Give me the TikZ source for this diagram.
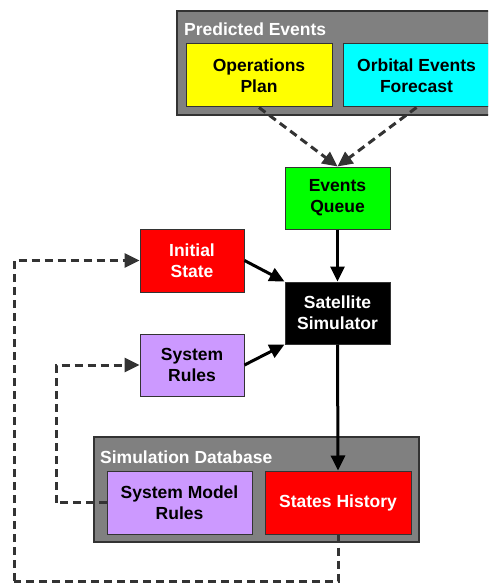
\documentclass[tikz,border=0pt]{standalone}
\usepackage{fontspec}
\setmainfont{Liberation Sans}
\usetikzlibrary{arrows.meta}
\definecolor{grp}{HTML}{808080}
\definecolor{edge}{HTML}{333333}
\definecolor{lilac}{HTML}{CC99FF}
\definecolor{aqua}{HTML}{00FFFF}
\definecolor{lime}{HTML}{00FF00}
\definecolor{lemon}{HTML}{FFFF00}
\definecolor{scarlet}{HTML}{FF0000}
\tikzset{
  grpbox/.style={draw=edge, line width=1.2pt, fill=grp},
  grplabel/.style={anchor=base west, inner sep=0pt, text=white,
    font=\fontsize{17.5}{21}\selectfont\bfseries},
  block/.style={draw=edge, line width=1pt, rectangle, align=center,
    inner sep=0pt, font=\fontsize{17.5}{21}\selectfont\bfseries},
  flow/.style={line width=3pt, draw=black,
    -{Triangle[length=15pt,width=14pt]}},
  feed/.style={line width=3pt, draw=edge, dash pattern=on 8pt off 5pt,
    -{Triangle[length=15pt,width=14pt]}},
  feedplain/.style={line width=3pt, draw=edge, dash pattern=on 8pt off 5pt},
}
\begin{document}
\begin{tikzpicture}[x=1pt, y=-1pt]
\useasboundingbox (0,0) rectangle (488,583);
\clip (0,0) rectangle (488,583);

% group containers
\draw[grpbox] (177,11) rectangle (500,115);
\node[grplabel] (predlbl) at (184,36) {Predicted Events};
\draw[grpbox] (94,437) rectangle (419,542);
\node[grplabel] (dblbl) at (100,463) {Simulation Database};

% blocks
\node[block, fill=lemon, minimum width=146pt, minimum height=63pt] (ops) at (259,75.5) {Operations\\Plan};
\node[block, fill=aqua, minimum width=147pt, minimum height=63pt] (orb) at (416.5,75.5) {Orbital Events\\Forecast};
\node[block, fill=lime, minimum width=105pt, minimum height=62pt] (queue) at (337.5,198) {Events\\Queue};
\node[block, fill=black, text=white, minimum width=105pt, minimum height=62pt] (sim) at (337.5,313) {Satellite\\Simulator};
\node[block, fill=scarlet, text=white, minimum width=104pt, minimum height=63pt] (init) at (192,260.5) {Initial\\State};
\node[block, fill=lilac, minimum width=104pt, minimum height=62pt] (rules) at (192,365) {System\\Rules};
\node[block, fill=lilac, minimum width=145pt, minimum height=63pt] (smr) at (179.5,502.5) {System Model\\Rules};
\node[block, fill=scarlet, text=white, minimum width=146pt, minimum height=63pt] (hist) at (338,502.5) {States History};

% routing points for the feedback loops
\coordinate (outerc) at (14,581);
\coordinate (innerc) at (56,502.5);

% event feeds
\draw[feed] (ops.south) -- (queue.north);
\draw[feed] (orb.south) -- (queue.north);

% main flow
\draw[flow] (queue.south) -- (sim.north);
\draw[flow] (init.east) -- (sim.north west);
\draw[flow] (rules.east) -- (sim.south west);
\draw[flow] (sim.south) -- (hist.north);

% feedback loops
\draw[feedplain] (hist.south) |- (outerc);
\draw[feed] (outerc) |- (init.west);
\draw[feedplain] (smr.west) -- (innerc);
\draw[feed] (innerc) |- (rules.west);
\end{tikzpicture}
\end{document}
